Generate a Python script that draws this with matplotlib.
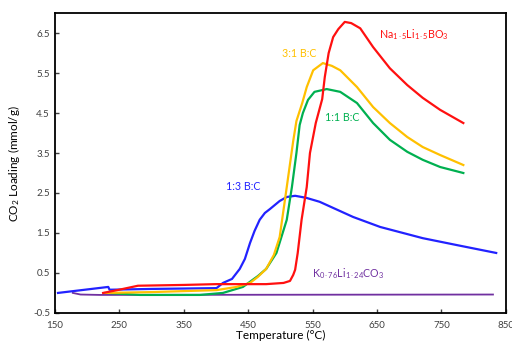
import matplotlib
matplotlib.use('agg')
import matplotlib.pyplot as plt

plt.rcParams['font.family'] = ['Lato', 'DejaVu Sans']
plt.rcParams['mathtext.fontset'] = 'custom'
plt.rcParams['mathtext.rm'] = 'Lato'
plt.rcParams['mathtext.it'] = 'Lato'

# curvas (temperatura em C, carga de CO2 em mmol/g)
T_na = [225, 250, 279, 350, 401, 478, 505, 515, 520, 523, 527, 533, 541, 546, 555, 565, 569, 575, 582,
        590, 600, 610, 624, 644, 670, 697, 721, 748, 784]
Y_na = [0.0, 0.08, 0.18, 0.2, 0.22, 0.22, 0.25, 0.3, 0.45, 0.58, 1.0, 1.83, 2.65, 3.5, 4.25, 4.85, 5.4, 6.0, 6.4,
        6.6, 6.78, 6.75, 6.62, 6.15, 5.62, 5.2, 4.88, 4.58, 4.25]

T_31 = [228, 298, 401, 432, 453, 465, 478, 490, 499, 510, 520, 525, 534, 541, 551, 566, 580, 593,
        619, 644, 670, 697, 721, 748, 784]
Y_31 = [0.0, 0.02, 0.07, 0.15, 0.25, 0.4, 0.6, 0.95, 1.4, 2.65, 3.8, 4.3, 4.75, 5.15, 5.57, 5.75, 5.68, 5.57,
        5.15, 4.65, 4.25, 3.9, 3.65, 3.45, 3.2]

T_11 = [232, 282, 375, 411, 442, 453, 465, 478, 494, 510, 518, 525, 530, 535, 543, 553, 572, 593,
        619, 644, 670, 697, 721, 748, 784]
Y_11 = [0.0, -0.05, -0.05, 0.0, 0.15, 0.28, 0.42, 0.6, 1.0, 1.83, 2.65, 3.5, 4.2, 4.5, 4.83, 5.03, 5.1, 5.03,
        4.75, 4.25, 3.83, 3.53, 3.33, 3.15, 3.0]

T_13 = [155, 233, 235, 300, 401, 411, 425, 437, 445, 453, 460, 468, 476, 484, 499, 510, 523, 540, 561,
        613, 655, 721, 773, 835]
Y_13 = [0.0, 0.15, 0.08, 0.1, 0.12, 0.25, 0.35, 0.6, 0.85, 1.25, 1.55, 1.83, 2.0, 2.1, 2.3, 2.4, 2.43, 2.38, 2.28,
        1.9, 1.65, 1.37, 1.2, 1.0]

T_k = [178, 190, 220, 830]
Y_k = [0.0, -0.04, -0.05, -0.04]

fig = plt.figure(figsize=(5.12, 3.45), dpi=100)
ax = fig.add_axes([0.107, 0.093, 0.881, 0.869])

ax.plot(T_k, Y_k, color='#7030A0', lw=1.3)
ax.plot(T_13, Y_13, color='#2222FF', lw=1.6)
ax.plot(T_11, Y_11, color='#00B050', lw=1.6)
ax.plot(T_31, Y_31, color='#FFC000', lw=1.6)
ax.plot(T_na, Y_na, color='#FF1010', lw=1.6)

ax.text(707, 6.45, r'Na$_{1\cdot5}$Li$_{1\cdot5}$BO$_3$', color='#FF1010', fontsize=7.7, ha='center', va='center')
ax.text(529, 6.0, '3:1 B:C', color='#FFC000', fontsize=7.7, ha='center', va='center')
ax.text(596, 4.38, '1:1 B:C', color='#00B050', fontsize=7.7, ha='center', va='center')
ax.text(443, 2.65, '1:3 B:C', color='#2222FF', fontsize=7.7, ha='center', va='center')
ax.text(605, 0.48, r'K$_{0\cdot76}$Li$_{1\cdot24}$CO$_3$', color='#7030A0', fontsize=7.7, ha='center', va='center')

ax.set_xlim(150, 850)
ax.set_ylim(-0.5, 7.0)
ax.set_xticks([150, 250, 350, 450, 550, 650, 750, 850])
ax.set_yticks([-0.5, 0.5, 1.5, 2.5, 3.5, 4.5, 5.5, 6.5])
ax.set_yticklabels(['-0.5', '0.5', '1.5', '2.5', '3.5', '4.5', '5.5', '6.5'])
ax.tick_params(direction='in', length=3, width=1, labelsize=7, colors='#404040')
ax.tick_params(axis='x', pad=6)
for s in ax.spines.values():
    s.set_linewidth(1.3)
    s.set_color('black')

ax.set_xlabel('Temperature (°C)', fontsize=8.5, labelpad=0)
ax.set_ylabel(r'CO$_2$ Loading (mmol/g)', fontsize=8.5, labelpad=8)

fig.savefig('out.png', dpi=100)
